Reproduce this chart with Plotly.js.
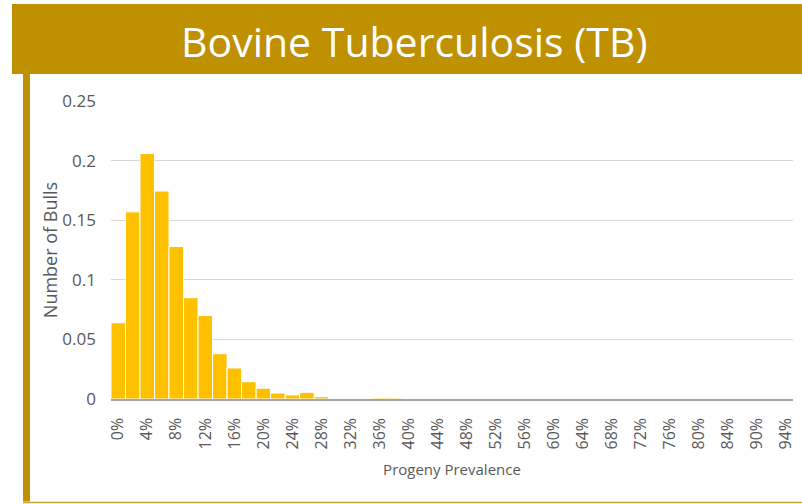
<!DOCTYPE html>
<html>
<head>
<meta charset="utf-8">
<script src="https://cdn.plot.ly/plotly-3.0.1.min.js"></script>
<style>
  html, body { margin: 0; padding: 0; background: #ffffff; }
  #chart { width: 802px; height: 504px; }
</style>
</head>
<body>
<div id="chart"></div>
<script>
// --- data ---
const prevalence = [
    '0%', '2%', '4%', '6%', '8%', '10%', '12%', '14%', '16%', '18%',
    '20%', '22%', '24%', '26%', '28%', '30%', '32%', '34%', '36%', '38%',
    '40%', '42%', '44%', '46%', '48%', '50%', '52%', '54%', '56%', '58%',
    '60%', '62%', '64%', '66%', '68%', '70%', '72%', '74%', '76%', '78%',
    '80%', '82%', '84%', '88%', '90%', '92%', '94%'
];
const bullShare = [
    0.064, 0.157, 0.206, 0.1745, 0.128, 0.085, 0.070, 0.038, 0.026, 0.0145,
    0.009, 0.005, 0.0034, 0.0056, 0.002, 0.0003, 0.0005, 0.0003, 0.001, 0.001,
    0, 0, 0, 0, 0, 0, 0, 0, 0, 0,
    0, 0, 0, 0, 0, 0, 0, 0, 0, 0,
    0, 0, 0, 0, 0, 0, 0
];
// every other category gets a label, as in the original
const shownTicks = ['0%', '4%', '8%', '12%', '16%', '20%', '24%', '28%', '32%', '36%',
    '40%', '44%', '48%', '52%', '56%', '60%', '64%', '68%', '72%', '76%',
    '80%', '84%', '90%', '94%'];

const gold = '#BF9000';
const grey = '#595959';

const trace = {
    type: 'bar',
    x: prevalence,
    y: bullShare,
    marker: { color: '#FFC000', line: { color: '#ffffff', width: 1 } },
    hoverinfo: 'x+y'
};

// plot area: x 111..793, y 101..399 (px)
const layout = {
    width: 802,
    height: 504,
    margin: { l: 111, r: 9, t: 101, b: 105 },
    paper_bgcolor: '#ffffff',
    plot_bgcolor: '#ffffff',
    showlegend: false,
    bargap: 0,
    font: { family: 'Open Sans, sans-serif', color: grey },
    xaxis: {
        type: 'category',
        tickvals: shownTicks,
        ticktext: shownTicks,
        tickangle: -90,
        tickfont: { family: 'Open Sans, sans-serif', size: 16, color: grey },
        ticks: 'outside',
        ticklen: 11,
        tickcolor: 'rgba(0,0,0,0)',
        showline: true,
        linecolor: '#A6A6A6',
        linewidth: 1.5,
        showgrid: false,
        title: {
            text: 'Progeny Prevalence',
            font: { family: 'Open Sans, sans-serif', size: 15, color: grey },
            standoff: 16
        }
    },
    yaxis: {
        range: [0, 0.25],
        dtick: 0.05,
        showgrid: true,
        gridcolor: '#D9D9D9',
        gridwidth: 1,
        zeroline: false,
        showline: false,
        ticklabelstandoff: 14,
        tickfont: { family: 'Open Sans, sans-serif', size: 17, color: grey },
        title: {
            text: 'Number of Bulls',
            font: { family: 'Open Sans, sans-serif', size: 18, color: grey },
            standoff: 0
        }
    },
    shapes: [
        // title banner
        { type: 'rect', xref: 'paper', yref: 'paper', x0: -0.1452, x1: 1.0132, y0: 1.0906, y1: 1.3255,
          fillcolor: gold, line: { width: 0 }, layer: 'below' },
        // left border bar
        { type: 'rect', xref: 'paper', yref: 'paper', x0: -0.1290, x1: -0.1188, y0: -0.3440, y1: 1.0906,
          fillcolor: gold, line: { width: 0 }, layer: 'below' },
        // bottom border line
        { type: 'line', xref: 'paper', yref: 'paper', x0: -0.1290, x1: 1.0132, y0: -0.3473, y1: -0.3473,
          line: { color: '#C9A236', width: 1.5 } }
    ],
    annotations: [
        { text: 'Bovine Tuberculosis (TB)', xref: 'paper', yref: 'paper', x: 0.4443, y: 1.2013,
          xanchor: 'center', yanchor: 'middle', showarrow: false,
          font: { family: 'Open Sans, sans-serif', size: 41, color: '#ffffff' } }
    ]
};

Plotly.newPlot('chart', [trace], layout, { displayModeBar: false, staticPlot: true });
</script>
</body>
</html>
